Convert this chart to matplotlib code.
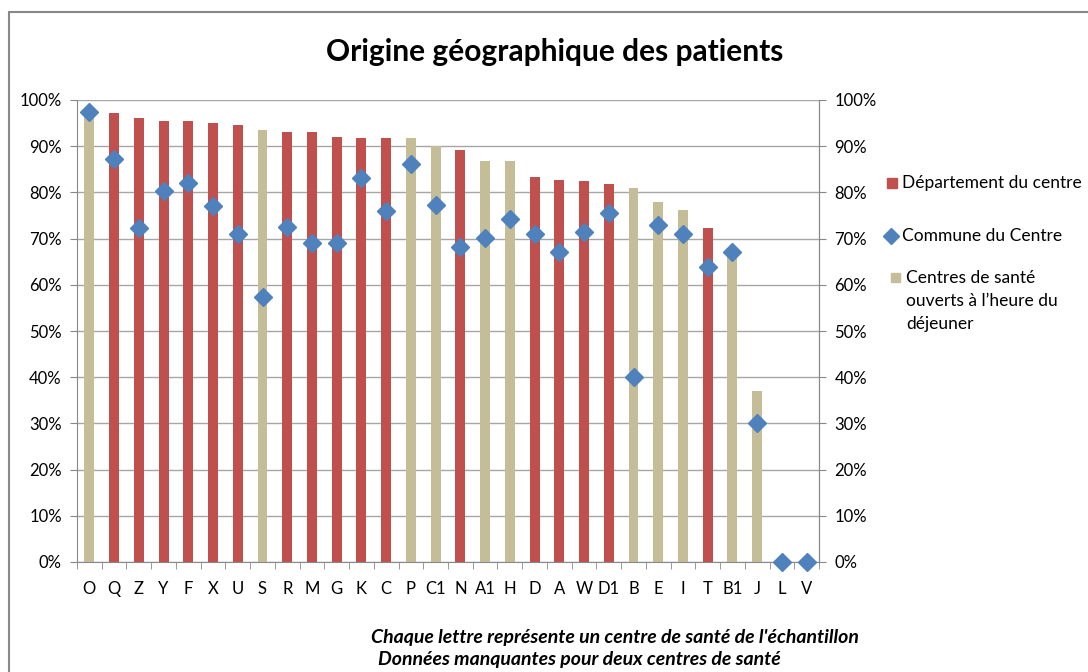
import numpy as np
import matplotlib.pyplot as plt
from matplotlib.patches import Rectangle
from matplotlib.lines import Line2D
from matplotlib.ticker import PercentFormatter, FixedLocator

# données
centres = ['O', 'Q', 'Z', 'Y', 'F', 'X', 'U', 'S', 'R', 'M', 'G', 'K', 'C', 'P', 'C1',
           'N', 'A1', 'H', 'D', 'A', 'W', 'D1', 'B', 'E', 'I', 'T', 'B1', 'J', 'L', 'V']
departement = [97.4, 97.1, 96.0, 95.4, 95.4, 95.0, 94.6, 93.4, 93.0, 93.0, 91.9, 91.7, 91.7, 91.7, 90.1,
               89.1, 86.9, 86.9, 83.3, 82.6, 82.4, 81.9, 81.0, 78.0, 76.1, 72.2, 67.0, 37.0, 0, 0]
commune = [97.4, 87.2, 72.2, 80.2, 82.1, 77.1, 71.1, 57.4, 72.6, 69.1, 69.1, 83.2, 76.0, 86.1, 77.3,
           68.1, 70.2, 74.3, 71.1, 67.0, 71.5, 75.6, 40.0, 73.0, 71.1, 63.9, 67.2, 30.0, 0, 0]
ouvert_midi = ['O', 'S', 'P', 'C1', 'A1', 'H', 'B', 'E', 'I', 'B1', 'J']

ROUGE = '#C0504D'
BEIGE = '#C4BD97'
BLEU = '#4F81BD'
W, H = 1088, 672

plt.rcParams['font.family'] = ['Lato', 'DejaVu Sans']

fig = plt.figure(figsize=(W / 100, H / 100), dpi=100)
fig.patches.append(Rectangle((9 / W, -0.1), 1.2, 1 - 12 / H + 0.1, transform=fig.transFigure,
                             fill=False, edgecolor='#888888', lw=1.5))

ax = fig.add_axes([77 / W, 1 - 562 / H, (819 - 77) / W, (562 - 100) / H])

x = np.arange(len(centres))
dep = np.array(departement)
midi = np.array([c in ouvert_midi for c in centres])
ax.bar(x[~midi], dep[~midi], width=0.4, color=ROUGE, zorder=2)
ax.bar(x[midi], dep[midi], width=0.4, color=BEIGE, zorder=2)
ax.plot(x, commune, ls='none', marker='D', ms=9, color=BLEU, zorder=3, clip_on=False)

ax.set_xlim(-0.5, len(centres) - 0.5)
ax.set_ylim(0, 100)
ax.set_yticks(np.arange(0, 101, 10))
ax.yaxis.set_major_formatter(PercentFormatter(decimals=0))
ax.grid(axis='y', color='#A6A6A6', lw=1, zorder=0)
ax.set_axisbelow(True)

ax.set_xticks(x)
ax.set_xticklabels(centres, fontsize=12)
ax.xaxis.set_minor_locator(FixedLocator(np.arange(-0.5, len(centres), 1)))
ax.tick_params(axis='x', which='major', length=0, pad=14)
ax.tick_params(axis='x', which='minor', length=5, color='#888888')
ax.tick_params(axis='y', length=5, color='#888888', labelsize=12, pad=6)

ax.spines['top'].set_visible(False)
for s in ['left', 'right', 'bottom']:
    ax.spines[s].set_color('#888888')

ax2 = ax.twinx()
ax2.set_ylim(0, 100)
ax2.set_yticks(np.arange(0, 101, 10))
ax2.yaxis.set_major_formatter(PercentFormatter(decimals=0))
ax2.tick_params(axis='y', length=5, color='#888888', labelsize=12, pad=6)
for s in ['top', 'left', 'bottom']:
    ax2.spines[s].set_visible(False)
ax2.spines['right'].set_color('#888888')

fig.text(555 / W, 1 - 52 / H, 'Origine géographique des patients', ha='center', va='center',
         fontsize=21.5, fontweight='bold')

# légende à la manière d'Excel (symbole aligné sur la première ligne)
fig.patches.append(Rectangle((887 / W, 1 - 188 / H), 10 / W, 10 / H, transform=fig.transFigure,
                             color=ROUGE))
fig.lines.append(Line2D([891 / W], [1 - 236 / H], transform=fig.transFigure, ls='none',
                        marker='D', ms=8, color=BLEU))
fig.patches.append(Rectangle((891 / W, 1 - 282 / H), 9 / W, 9 / H, transform=fig.transFigure,
                             color=BEIGE))
fig.text(902 / W, 1 - 183 / H, 'Département du centre', va='center', fontsize=12.5)
fig.text(902 / W, 1 - 236 / H, 'Commune du Centre', va='center', fontsize=12.5)
fig.text(906 / W, 1 - 270 / H, 'Centres de santé\nouverts à l\u2019heure du\ndéjeuner',
         va='top', fontsize=12.5, linespacing=1.55)

fig.text(615 / W, 1 - 638 / H, "Chaque lettre représente un centre de santé de l'échantillon",
         ha='center', va='center', fontsize=14, fontstyle='italic', fontweight='bold')
fig.text(579 / W, 1 - 660 / H, 'Données manquantes pour deux centres de santé',
         ha='center', va='center', fontsize=14, fontstyle='italic', fontweight='bold')

fig.savefig('out.png', dpi=100)
